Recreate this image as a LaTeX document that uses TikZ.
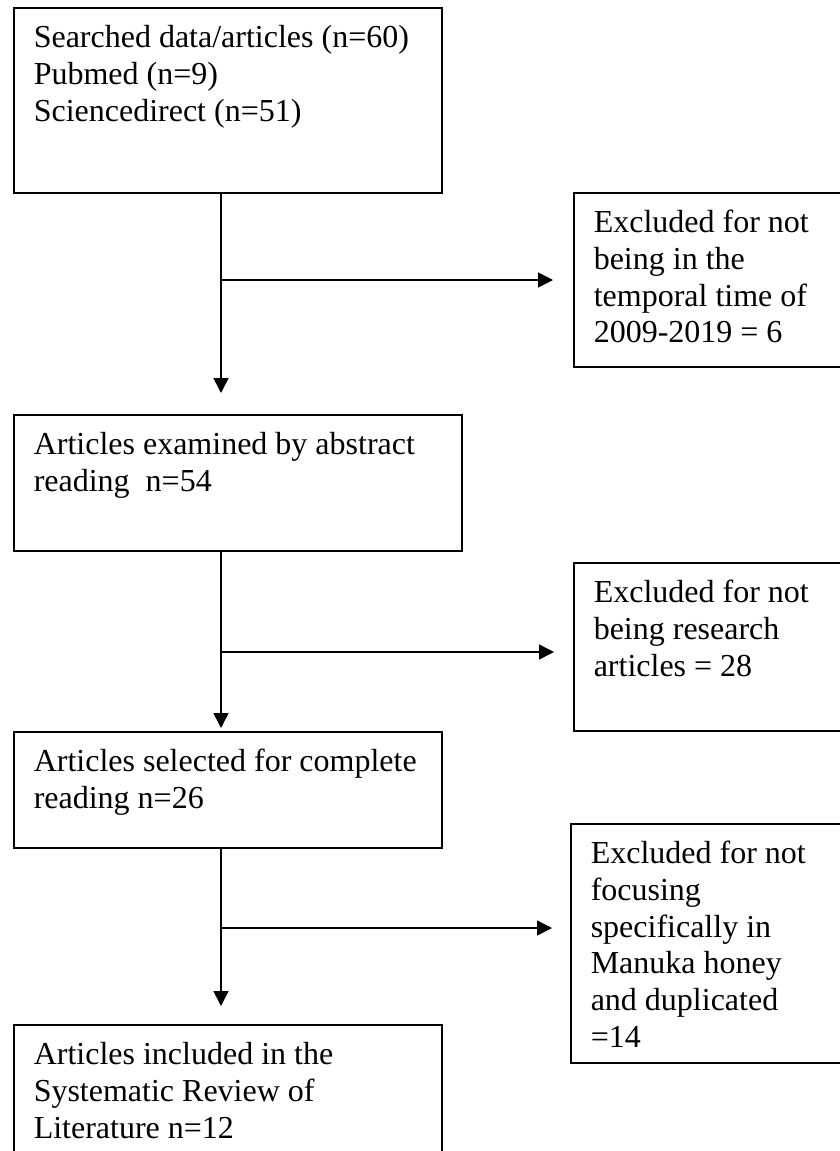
\documentclass[tikz,border=0pt]{standalone}
\usepackage{fontspec}
\setmainfont{Liberation Serif}
\usepackage{tikz}
\usetikzlibrary{arrows.meta,positioning,calc}
\tikzset{
    stage/.style={draw=black,line width=1.5pt,anchor=north west,
                  inner xsep=20pt,inner ysep=14pt,font=\fontsize{32}{36.8}\selectfont},
    flow/.style={draw=black,line width=1.5pt,-{Triangle[length=15pt,width=15pt]}}
}
\newcommand{\stagetext}[3]{\parbox[t][#2][t]{#1}{\raggedright\strut #3}}

\begin{document}
\begin{tikzpicture}[x=1pt,y=-1pt]
                \useasboundingbox (0,0) rectangle (840,1151);
                \node[stage] (search) at (13,7) {\stagetext{388pt}{157pt}{Searched data/articles (n=60)\\Pubmed (n=9)\\Sciencedirect (n=51)}};
                \node[stage] (excl1) at (573,192) {\stagetext{240pt}{146pt}{Excluded for not\\being in the\\temporal time of\\2009-2019 = 6}};
                \node[stage] (abstract) at (13,414) {\stagetext{408pt}{108pt}{Articles examined by abstract\\reading\ \ n=54}};
                \node[stage] (excl2) at (573,562) {\stagetext{240pt}{140pt}{Excluded for not\\being research\\articles = 28}};
                \node[stage] (complete) at (13,731) {\stagetext{388pt}{88pt}{Articles selected for complete\\reading n=26}};
                \node[stage] (excl3) at (570,823) {\stagetext{240pt}{211pt}{Excluded for not\\focusing\\specifically in\\Manuka honey\\and duplicated\\=14}};
                \node[stage] (included) at (13,1024) {\stagetext{388pt}{200pt}{Articles included in the\\Systematic Review of\\Literature n=12}};
                \coordinate (trunk) at (221,0);
                \coordinate (fork1) at (221,280);
                \coordinate (fork2) at (221,652);
                \coordinate (fork3) at (221,928);
                \draw[flow] (search.south -| trunk) -- ([yshift=21pt]abstract.north -| trunk);
                \draw[flow] (abstract.south -| trunk) -- ([yshift=3pt]complete.north -| trunk);
                \draw[flow] (complete.south -| trunk) -- ([yshift=18pt]included.north -| trunk);
                \draw[flow] (fork1) -- ([xshift=-20pt]excl1.west |- fork1);
                \draw[flow] (fork2) -- ([xshift=-19pt]excl2.west |- fork2);
                \draw[flow] (fork3) -- ([xshift=-18pt]excl3.west |- fork3);
            \end{tikzpicture}
\end{document}
